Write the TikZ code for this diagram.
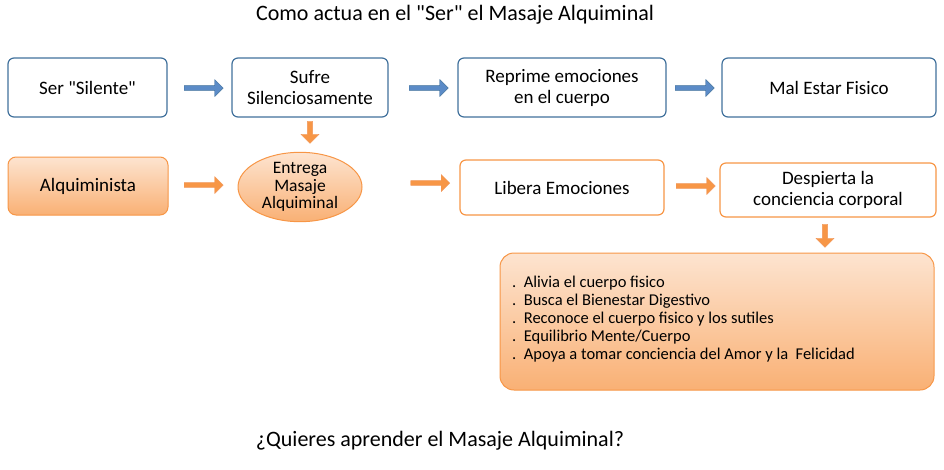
\documentclass[tikz,border=0pt]{standalone}
\usepackage{fontspec}
\setmainfont{Carlito}[Ligatures=TeXOff]
\usetikzlibrary{shapes.arrows,shapes.geometric}
\definecolor{bl}{HTML}{41719C}
\definecolor{blf}{HTML}{5B8BC7}
\definecolor{orb}{HTML}{ED7D31}
\definecolor{orf}{HTML}{F79646}
\definecolor{orl}{HTML}{FDE4D0}
\begin{document}
\begin{tikzpicture}[x=1pt,y=-1pt,font=\fontsize{19}{21}\selectfont,
 bbox/.style={draw=bl,line width=1.2pt,rounded corners=6pt,fill=white,align=center,inner sep=0pt},
 obox/.style={draw=orf,line width=1.2pt,rounded corners=6pt,fill=white,align=center,inner sep=0pt},
 gbox/.style={draw=orf,line width=1pt,rounded corners=8pt,top color=orl,bottom color=orf!75,align=center,inner sep=0pt},
 barr/.style={single arrow,draw=bl,fill=blf,minimum height=39pt,minimum width=17pt,single arrow head extend=3pt,inner sep=1pt},
 oarr/.style={single arrow,draw=orb!80,fill=orf,minimum height=39pt,minimum width=17pt,single arrow head extend=3pt,inner sep=1pt}]
\useasboundingbox (0,0) rectangle (944,469);
\node (t) at (455,15) {\fontsize{22}{24}\selectfont Como actua en el "Ser" el Masaje Alquiminal};
\node[bbox,minimum width=159pt,minimum height=59pt] (a1) at (87.5,87.5) {Ser "Silente"};
\node[bbox,minimum width=156pt,minimum height=59pt] (a2) at (310,87.5) {Sufre\\Silenciosamente};
\node[bbox,minimum width=208pt,minimum height=59pt] (a3) at (562,87.5) {Reprime emociones\\en el cuerpo};
\node[bbox,minimum width=214pt,minimum height=59pt] (a4) at (829,87.5) {Mal Estar Fisico};
\node[barr] (ab1) at (202.5,88) {};
\node[barr] (ab2) at (427.5,88) {};
\node[barr] (ab3) at (693.5,88) {};
\node[gbox,minimum width=160pt,minimum height=58pt] (b1) at (88,186) {Alquiminista};
\node[ellipse,draw=orf,line width=1pt,top color=orl,bottom color=orf!75,minimum width=124pt,minimum height=64pt,inner sep=0pt,align=center,font=\fontsize{17.5}{17.5}\selectfont] (b2) at (300,187) {Entrega\\Masaje\\Alquiminal};
\node[obox,minimum width=204pt,minimum height=55pt] (b3) at (562,187.5) {Libera Emociones};
\node[obox,minimum width=216pt,minimum height=54pt] (b4) at (828,190) {Despierta la\\conciencia corporal};
\node[oarr] (bb1) at (202.5,185) {};
\node[oarr] (bb2) at (429,183) {};
\node[oarr] (bb3) at (694.5,186) {};
\node[oarr,rotate=-90,minimum height=22pt,minimum width=18pt] (d1) at (310,131) {};
\node[oarr,rotate=-90,minimum height=23pt,minimum width=18pt] (d2) at (825,234.5) {};
\node[gbox,minimum width=434pt,minimum height=137pt,rounded corners=14pt] (c) at (717,321.5) {};
\node[anchor=north west,align=left,inner sep=0pt,font=\fontsize{16.5}{18}\selectfont] (ct) at (512,276) {.\ \ Alivia el cuerpo fisico\\.\ \ Busca el Bienestar Digestivo\\.\ \ Reconoce el cuerpo fisico y los sutiles\\.\ \ Equilibrio Mente/Cuerpo\\.\ \ Apoya a tomar conciencia del Amor y la\ \ Felicidad};
\node (q) at (440,441) {\fontsize{22}{24}\selectfont ¿Quieres aprender el Masaje Alquiminal?};
\end{tikzpicture}
\end{document}
